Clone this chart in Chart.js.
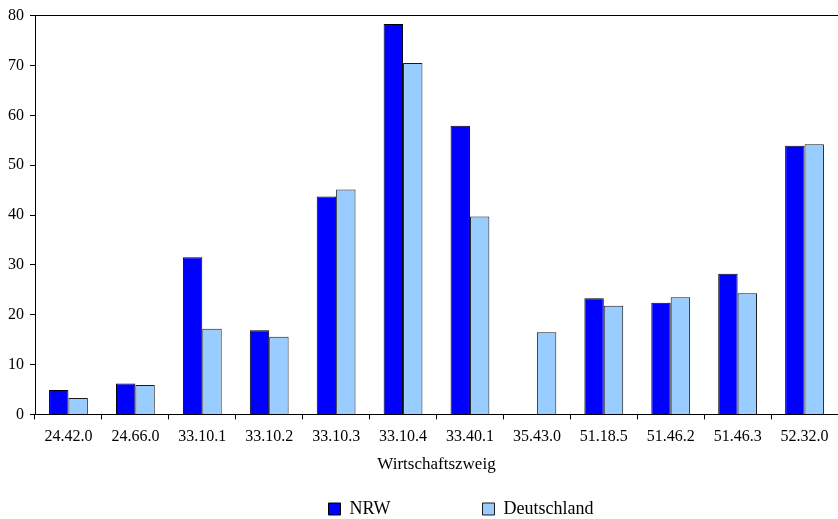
<!DOCTYPE html>
<html>
<head>
<meta charset="utf-8">
<script src="https://cdn.jsdelivr.net/npm/chart.js@4/dist/chart.umd.min.js"></script>
<style>
  html, body { margin: 0; padding: 0; background: #fff; }
  #wrap { width: 838px; height: 519px; }
</style>
</head>
<body>
<div id="wrap"><canvas id="bar"></canvas></div>
<script>
'use strict';

// Daten
const branchen = ['24.42.0', '24.66.0', '33.10.1', '33.10.2', '33.10.3', '33.10.4',
                  '33.40.1', '35.43.0', '51.18.5', '51.46.2', '51.46.3', '52.32.0'];
const nrw = [4.9, 6.2, 31.5, 16.9, 43.7, 78.3, 57.9, 0, 23.3, 22.4, 28.2, 53.9];
const deutschland = [3.3, 5.9, 17.2, 15.6, 45.1, 70.5, 39.7, 16.5, 21.8, 23.5, 24.3, 54.2];
const yTicks = [0, 10, 20, 30, 40, 50, 60, 70, 80];

const serif = '"Liberation Serif", "Times New Roman", serif';
const schrift = { family: serif, size: 16 };

// Legende: grosser Abstand zwischen den Eintraegen, aber wenig Hoehe -> nachtraeglich verschieben
const legendAbstand = 92;
const legendShift = {
    id: 'legendShift',
    afterLayout(chart) {
        const lg = chart.legend;
        lg.left += 42;
        lg.right += 42;
        lg.top = 500 - legendAbstand;
        lg.bottom = chart.height;   // sonst wird die Legende weggeclippt
    }
};

Chart.defaults.font = schrift;
Chart.defaults.color = '#000';

const barChart = new Chart(document.getElementById('bar'), {
    type: 'bar',
    data: {
        labels: branchen,
        datasets: [{
            label: 'NRW',
            data: nrw,
            backgroundColor: '#0000ff',
            borderColor: '#000',
            borderWidth: 1
        }, {
            label: 'Deutschland',
            data: deutschland,
            backgroundColor: '#99ccff',
            borderColor: '#1a1a1a',
            borderWidth: 1
        }]
    },
    plugins: [legendShift],
    options: {
        responsive: true,
        maintainAspectRatio: false,
        animation: false,
        layout: { padding: { top: 14, right: 0, bottom: 14, left: 0 } },
        datasets: {
            bar: { categoryPercentage: 0.58, barPercentage: 1.0 }
        },
        plugins: {
            tooltip: { enabled: false },
            legend: {
                position: 'bottom',
                maxHeight: 30,
                labels: {
                    boxWidth: 12,
                    boxHeight: 12,
                    padding: legendAbstand,
                    font: { family: serif, size: 18 }
                }
            }
        },
        scales: {
            x: {
                offset: true,
                grid: {
                    offset: true,
                    drawOnChartArea: false,
                    tickColor: '#000',
                    tickLength: 5
                },
                border: { color: '#000', width: 1 },
                ticks: { padding: 8, maxRotation: 0, autoSkip: false },
                title: {
                    display: true,
                    text: 'Wirtschaftszweig',
                    font: { family: serif, size: 17 },
                    padding: { top: 0, bottom: 0 }
                }
            },
            y: {
                min: 0,
                max: 80,
                afterFit(scale) { scale.width = 35; },
                afterBuildTicks(scale) {
                    scale.ticks = yTicks.map(v => ({ value: v }));
                },
                grid: {
                    color: c => (c.tick && c.tick.value === 80) ? '#000' : 'rgba(0,0,0,0)',
                    tickColor: '#000',
                    tickLength: 5
                },
                border: { color: '#000', width: 1 },
                ticks: { padding: 6 }
            }
        }
    }
});
</script>
</body>
</html>
